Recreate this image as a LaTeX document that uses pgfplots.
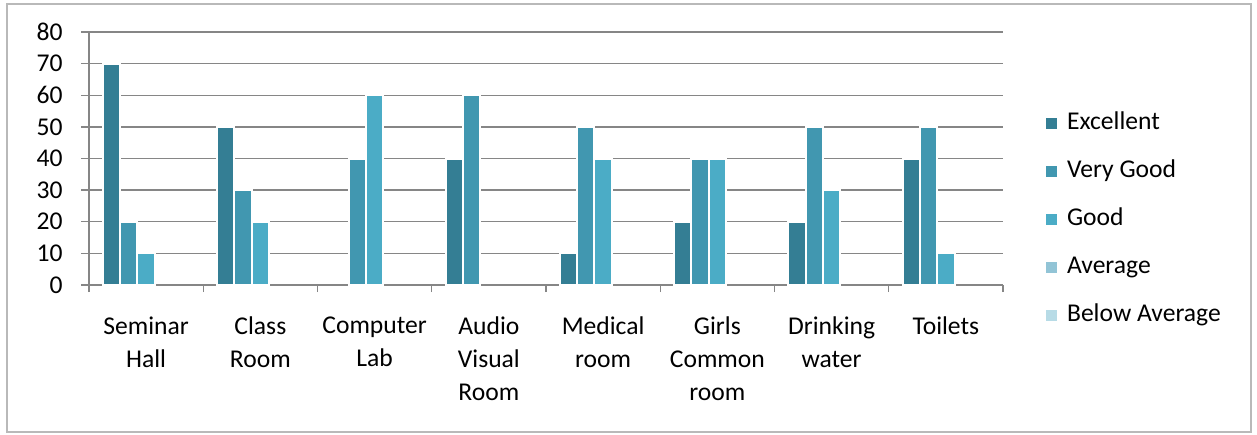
\documentclass[border=0pt]{standalone}
\usepackage{fontspec}
\setmainfont{Carlito}
\usepackage{pgfplots}
\pgfplotsset{compat=1.18}
\definecolor{cExc}{RGB}{52,126,148}
\definecolor{cVG}{RGB}{65,151,176}
\definecolor{cGood}{RGB}{75,172,198}
\definecolor{cAvg}{RGB}{146,196,214}
\definecolor{cBelow}{RGB}{183,219,230}
\definecolor{gridc}{RGB}{134,134,134}
\pgfplotsset{
  sqlegend/.style={legend image code/.code={\fill[##1] (0pt,-3.25pt) rectangle (6.5pt,3.25pt);}},
  mybar/.style={ybar, bar width=8.65pt, draw=white, line width=1pt, sqlegend},
}
\newcommand\chartfont{\fontsize{12.8}{16.5}\selectfont}

\begin{document}
\begin{tikzpicture}
\path (0,0) rectangle (628.5pt,217pt);
\draw[gray!55, line width=0.75pt] (3.5pt,1pt) rectangle (625.5pt,215pt);
\begin{axis}[
  at={(44.5pt,74.5pt)}, anchor=south west,
  scale only axis, width=457pt, height=126.5pt,
  xmin=-0.5, xmax=7.5, ymin=0, ymax=80,
  axis x line=bottom, axis y line=left,
  axis line style={-, gridc, line width=0.7pt},
  ytick={0,10,...,80}, ymajorgrids,
  grid style={gridc, line width=0.7pt},
  tick align=outside,
  major tick length=4pt, minor tick length=3.5pt,
  tick style={gridc, line width=0.7pt},
  xtick={0,...,7},
  xticklabels={Seminar\\Hall, Class\\Room, Computer\\Lab, Audio\\Visual\\Room,
    Medical\\room, Girls\\Common\\room, Drinking\\water, Toilets},
  major x tick style={draw=none},
  minor xtick={-0.5,0.5,...,7.5},
  tick label style={font=\chartfont},
  xticklabel style={align=center, anchor=north, inner sep=0pt, yshift=-11.5pt},
  yticklabel style={anchor=east, inner sep=0pt, xshift=-9pt},
  /pgf/number format/assume math mode=true,
  legend style={at={(1.0445,0.259)}, anchor=west, draw=none, fill=none,
    inner sep=0pt, font=\chartfont, row sep=13pt, column sep=4pt,
    nodes={inner sep=0pt, text height=8.5pt, text depth=2.5pt},
    cells={anchor=west}},
]
\addplot[mybar, bar shift=-17.3pt, fill=cExc] coordinates
  {(0,70) (1,50) (3,40) (4,10) (5,20) (6,20) (7,40)};
\addlegendentry{Excellent}
\addplot[mybar, bar shift=-8.65pt, fill=cVG] coordinates
  {(0,20) (1,30) (2,40) (3,60) (4,50) (5,40) (6,50) (7,50)};
\addlegendentry{Very Good}
\addplot[mybar, bar shift=0pt, fill=cGood] coordinates
  {(0,10) (1,20) (2,60) (4,40) (5,40) (6,30) (7,10)};
\addlegendentry{Good}
% Average and Below Average are 0 everywhere
\addlegendimage{sqlegend, fill=cAvg, draw=white, line width=1pt}
\addlegendentry{Average}
\addlegendimage{sqlegend, fill=cBelow, draw=white, line width=1pt}
\addlegendentry{Below Average}
\end{axis}
\end{tikzpicture}
\end{document}
